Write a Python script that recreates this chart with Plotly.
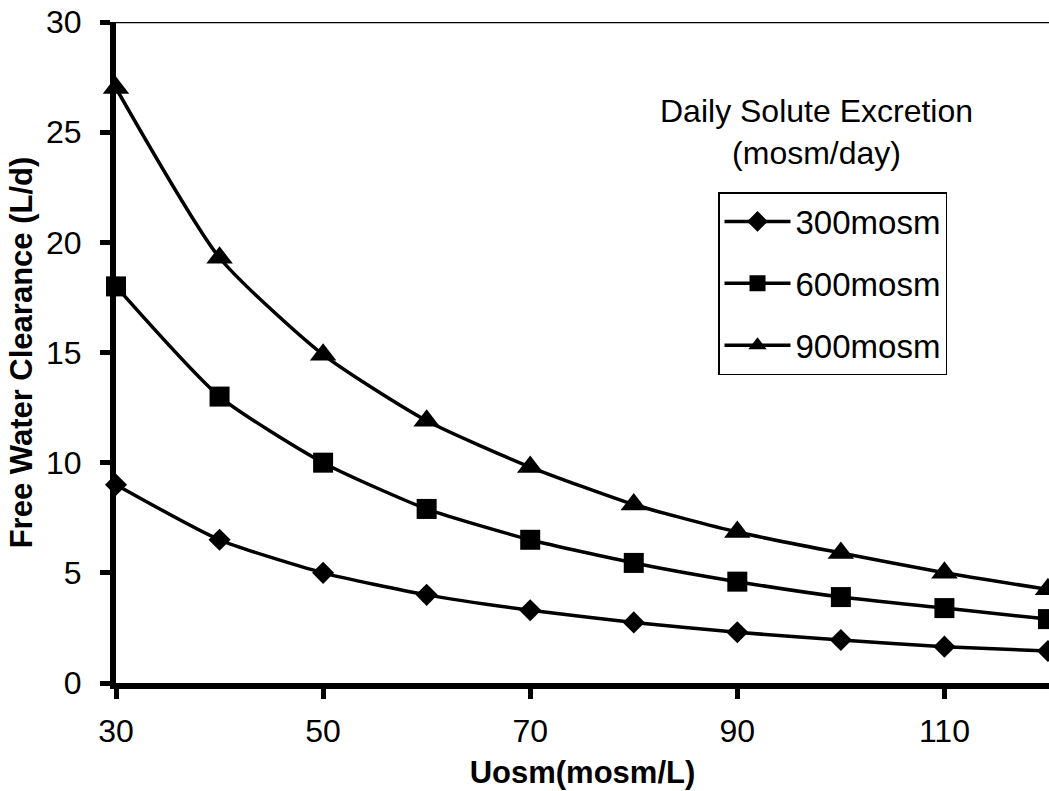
import plotly.graph_objects as go

uosm = [30, 40, 50, 60, 70, 80, 90, 100, 110, 120]
fwc_300 = [9.0, 6.5, 5.0, 4.0, 3.3, 2.75, 2.3, 1.95, 1.65, 1.45]
fwc_600 = [18.0, 13.0, 10.0, 7.9, 6.5, 5.45, 4.6, 3.9, 3.4, 2.9]
fwc_900 = [27.0, 19.3, 14.9, 11.9, 9.8, 8.1, 6.85, 5.9, 5.0, 4.25]
series_names = ["300mosm", "600mosm", "900mosm"]
x_ticks = [30, 50, 70, 90, 110]
y_ticks = [0, 5, 10, 15, 20, 25, 30]

FONT = "Liberation Sans, Arial, sans-serif"

fig = go.Figure()
specs = [(fwc_300, "diamond", 17), (fwc_600, "square", 20), (fwc_900, "triangle-up", 23)]
for name, (vals, sym, size) in zip(series_names, specs):
    fig.add_trace(go.Scatter(
        x=uosm, y=vals, name=name, mode="lines+markers",
        line=dict(color="black", width=3.5, shape="spline", smoothing=0.6),
        marker=dict(symbol=sym, size=size, color="black"),
        cliponaxis=False, legendgroup=name,
    ))

fig.update_layout(
    width=1049, height=791,
    margin=dict(l=116, r=0, t=22, b=108, autoexpand=False),
    paper_bgcolor="white", plot_bgcolor="white",
    font=dict(family=FONT, color="black"),
    showlegend=True,
    legend=dict(
        x=(718 - 116) / 933, y=(683 - 192) / 661, xanchor="left", yanchor="top",
        bordercolor="black", borderwidth=1.5, bgcolor="white",
        font=dict(size=33, family=FONT, color="black"),
        traceorder="grouped", tracegroupgap=16, itemwidth=66,
    ),
    xaxis=dict(
        range=[30, 120.1], tickvals=x_ticks, showgrid=False, zeroline=False,
        automargin=False,
        showline=True, linecolor="black", linewidth=6,
        ticks="outside", ticklen=10, tickwidth=5, tickcolor="black",
        tickfont=dict(size=32, family=FONT, color="black"),
        ticklabelstandoff=5,
        title=dict(text="<b>Uosm(mosm/L)</b>", font=dict(size=31, family=FONT, color="black")),
    ),
    yaxis=dict(
        range=[0, 30], tickvals=y_ticks, showgrid=False, zeroline=False,
        automargin=False,
        showline=True, linecolor="black", linewidth=6,
        ticks="outside", ticklen=10, tickwidth=5, tickcolor="black",
        tickfont=dict(size=32, family=FONT, color="black"),
        ticklabelstandoff=12,
        title=dict(text="<b>Free Water Clearance (L/d)</b>", font=dict(size=31, family=FONT, color="black"), standoff=6),
    ),
    annotations=[dict(
        text="Daily Solute Excretion<br>(mosm/day)", x=(816 - 116) / 933, y=(683 - 132) / 661,
        xref="paper", yref="paper", xanchor="center", yanchor="middle",
        showarrow=False, align="center", font=dict(size=32, family=FONT, color="black"),
    )],
    shapes=[dict(type="line", xref="paper", yref="y", x0=0, x1=1, y0=30, y1=30,
                 line=dict(color="black", width=2.5))],
)

fig.write_html(
    "out.html",
    config={"displayModeBar": False},
    post_script="document.body.style.margin='0';document.body.style.overflow='hidden';",
)
